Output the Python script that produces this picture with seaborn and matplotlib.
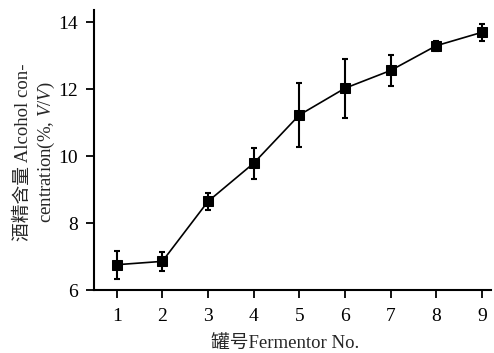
import matplotlib
matplotlib.use("Agg")
import matplotlib.pyplot as plt
import seaborn as sns
import pandas as pd

fermentor = [1, 2, 3, 4, 5, 6, 7, 8, 9]
alcohol = [6.76, 6.86, 8.65, 9.79, 11.23, 12.03, 12.56, 13.30, 13.70]
error = [0.42, 0.29, 0.25, 0.47, 0.95, 0.88, 0.45, 0.15, 0.26]
yticks = [6, 8, 10, 12, 14]

sns.set_theme(style="ticks")
plt.rcParams['font.family'] = ['Liberation Serif', 'Noto Sans CJK SC']
plt.rcParams['mathtext.fontset'] = 'custom'
plt.rcParams['mathtext.rm'] = 'Liberation Serif'
plt.rcParams['mathtext.it'] = 'Liberation Serif:italic'

df = pd.DataFrame({"fermentor": fermentor, "alcohol": alcohol, "error": error})

fig = plt.figure(figsize=(4.94, 3.53), dpi=100)
ax = fig.add_axes([0.190, 0.178, 0.804, 0.794])

ax.errorbar(df["fermentor"], df["alcohol"], yerr=df["error"], fmt="none",
            ecolor="black", elinewidth=1.5, capsize=2.4, capthick=1.5, zorder=2)
sns.lineplot(data=df, x="fermentor", y="alcohol", ax=ax, color="black",
             linewidth=1.2, marker="s", markersize=6.5, markeredgecolor="black",
             markerfacecolor="black", zorder=3)

ax.set_xlim(0.5, 9.2)
ax.set_ylim(6, 14.37)
ax.set_xticks(fermentor)
ax.set_yticks(yticks)
ax.tick_params(axis="both", direction="out", length=6, width=1.3,
               labelsize=14, color="black", labelcolor="black", pad=5.5)
ax.tick_params(axis="x", pad=7)
for s in ["top", "right"]:
    ax.spines[s].set_visible(False)
for s in ["left", "bottom"]:
    ax.spines[s].set_linewidth(1.5)
    ax.spines[s].set_color("black")

ax.set_xlabel("")
ax.set_ylabel("")
fig.text(0.578, 0.003, "罐号Fermentor No.", ha="center", va="bottom",
         fontsize=13.5, family=['Liberation Serif', 'Noto Sans CJK SC'])
fig.text(0.048, 0.57, "酒精含量 Alcohol con-", rotation=90, ha="center", va="center",
         fontsize=13.5, family=['Liberation Serif', 'Noto Sans CJK SC'])
fig.text(0.093, 0.57, r"centration(%, $\mathit{V}$/$\mathit{V}$)", rotation=90,
         ha="center", va="center", fontsize=13.5, family='Liberation Serif')

fig.savefig("out.png", dpi=100)
